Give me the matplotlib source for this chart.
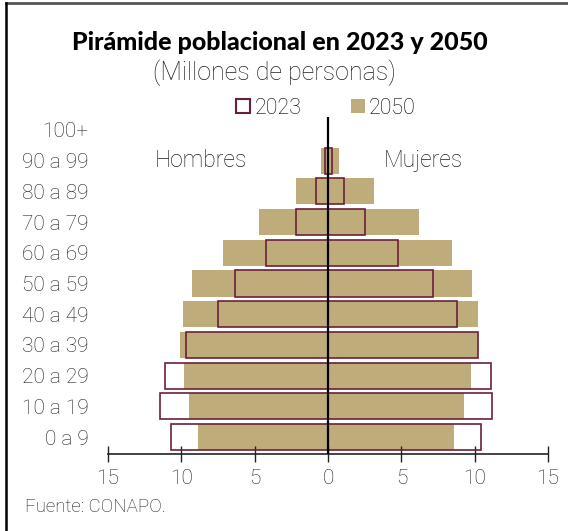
import matplotlib

matplotlib.use("Agg")
from matplotlib import pyplot
from matplotlib.lines import Line2D
from matplotlib.patches import Patch

age_groups = [
    "0 a 9", "10 a 19", "20 a 29", "30 a 39", "40 a 49", "50 a 59",
    "60 a 69", "70 a 79", "80 a 89", "90 a 99", "100+",
]

# millones de personas
men_2023 = [10.7, 11.45, 11.1, 9.7, 7.5, 6.35, 4.2, 2.15, 0.85, 0.2, 0.0]
women_2023 = [10.4, 11.15, 11.1, 10.25, 8.8, 7.15, 4.75, 2.55, 1.1, 0.27, 0.0]
men_2050 = [8.85, 9.5, 9.85, 10.1, 9.9, 9.3, 7.15, 4.7, 2.2, 0.5, 0.0]
women_2050 = [8.6, 9.25, 9.75, 10.2, 10.2, 9.85, 8.45, 6.2, 3.15, 0.75, 0.0]

x_ticks = [-15, -10, -5, 0, 5, 10, 15]

tan = "#bfac7b"
maroon = "#6c1f38"
text_color = "#1e1e1e"
font = "Roboto"
weight = "light"

fig = pyplot.figure(figsize=(5.68, 5.31), dpi=100)
ax = fig.add_axes([108 / 568, 1 - 454 / 531, 440 / 568, (454 - 117) / 531])

y = list(range(len(age_groups)))
bar_h = 0.85

ax.barh(y, [-v for v in men_2050], height=bar_h, color=tan, zorder=1)
ax.barh(y, women_2050, height=bar_h, color=tan, zorder=1)
ax.barh(y, [-v for v in men_2023], height=bar_h, facecolor="none",
        edgecolor=maroon, linewidth=1.2, zorder=2)
ax.barh(y, women_2023, height=bar_h, facecolor="none",
        edgecolor=maroon, linewidth=1.2, zorder=2)

ax.axvline(0, color="black", linewidth=1.6, zorder=3)

ax.set_xlim(-15, 15)
ax.set_ylim(-0.55, 10.42)

ax.set_xticks(x_ticks)
ax.set_xticklabels([str(abs(t)) for t in x_ticks], family=font,
                   fontweight=weight, fontsize=15, color=text_color)
ax.set_yticks(y)
ax.set_yticklabels(age_groups, family=font, fontweight=weight,
                   fontsize=15, color=text_color)
ax.tick_params(axis="x", direction="inout", length=11, width=1,
               color="#222222", pad=5)
ax.tick_params(axis="y", length=0, pad=14)

for side in ["top", "right", "left"]:
    ax.spines[side].set_visible(False)
ax.spines["bottom"].set_linewidth(1.2)
ax.spines["bottom"].set_color("#222222")

ax.text(-8.66, 9, "Hombres", ha="center", va="center", family=font,
        fontweight=weight, fontsize=16.5, color=text_color)
ax.text(6.5, 9, "Mujeres", ha="center", va="center", family=font,
        fontweight=weight, fontsize=16.5, color=text_color)

handles = [
    Patch(facecolor="white", edgecolor=maroon, linewidth=1.5, label="2023"),
    Patch(facecolor=tan, edgecolor="none", label="2050"),
]
fig.legend(handles=handles, loc="center", bbox_to_anchor=(326 / 568, 1 - 108 / 531),
           ncol=2, frameon=False, handlelength=0.65, handleheight=0.65,
           handletextpad=0.2, columnspacing=2.3,
           prop={"family": font, "weight": weight, "size": 15.5})

fig.text(280 / 568, 1 - 42 / 531, "Pirámide poblacional en 2023 y 2050",
         ha="center", va="center", family="Lato", fontweight="black",
         fontsize=18, color="black")
fig.text(274 / 568, 1 - 73 / 531, "(Millones de personas)", ha="center",
         va="center", family=font, fontweight=weight, fontsize=18,
         color=text_color)
fig.text(25 / 568, 1 - 507 / 531, "Fuente: CONAPO.", ha="left", va="center",
         family=font, fontweight=weight, fontsize=13.5, color=text_color)

# marco de la figura
fig.add_artist(Line2D([6 / 568, 1], [1 - 3 / 531, 1 - 3 / 531],
                      transform=fig.transFigure, color="#555555", linewidth=2))
fig.add_artist(Line2D([6 / 568, 6 / 568], [0, 1 - 3 / 531],
                      transform=fig.transFigure, color="black", linewidth=1.8))

fig.savefig("out.png", dpi=100)
